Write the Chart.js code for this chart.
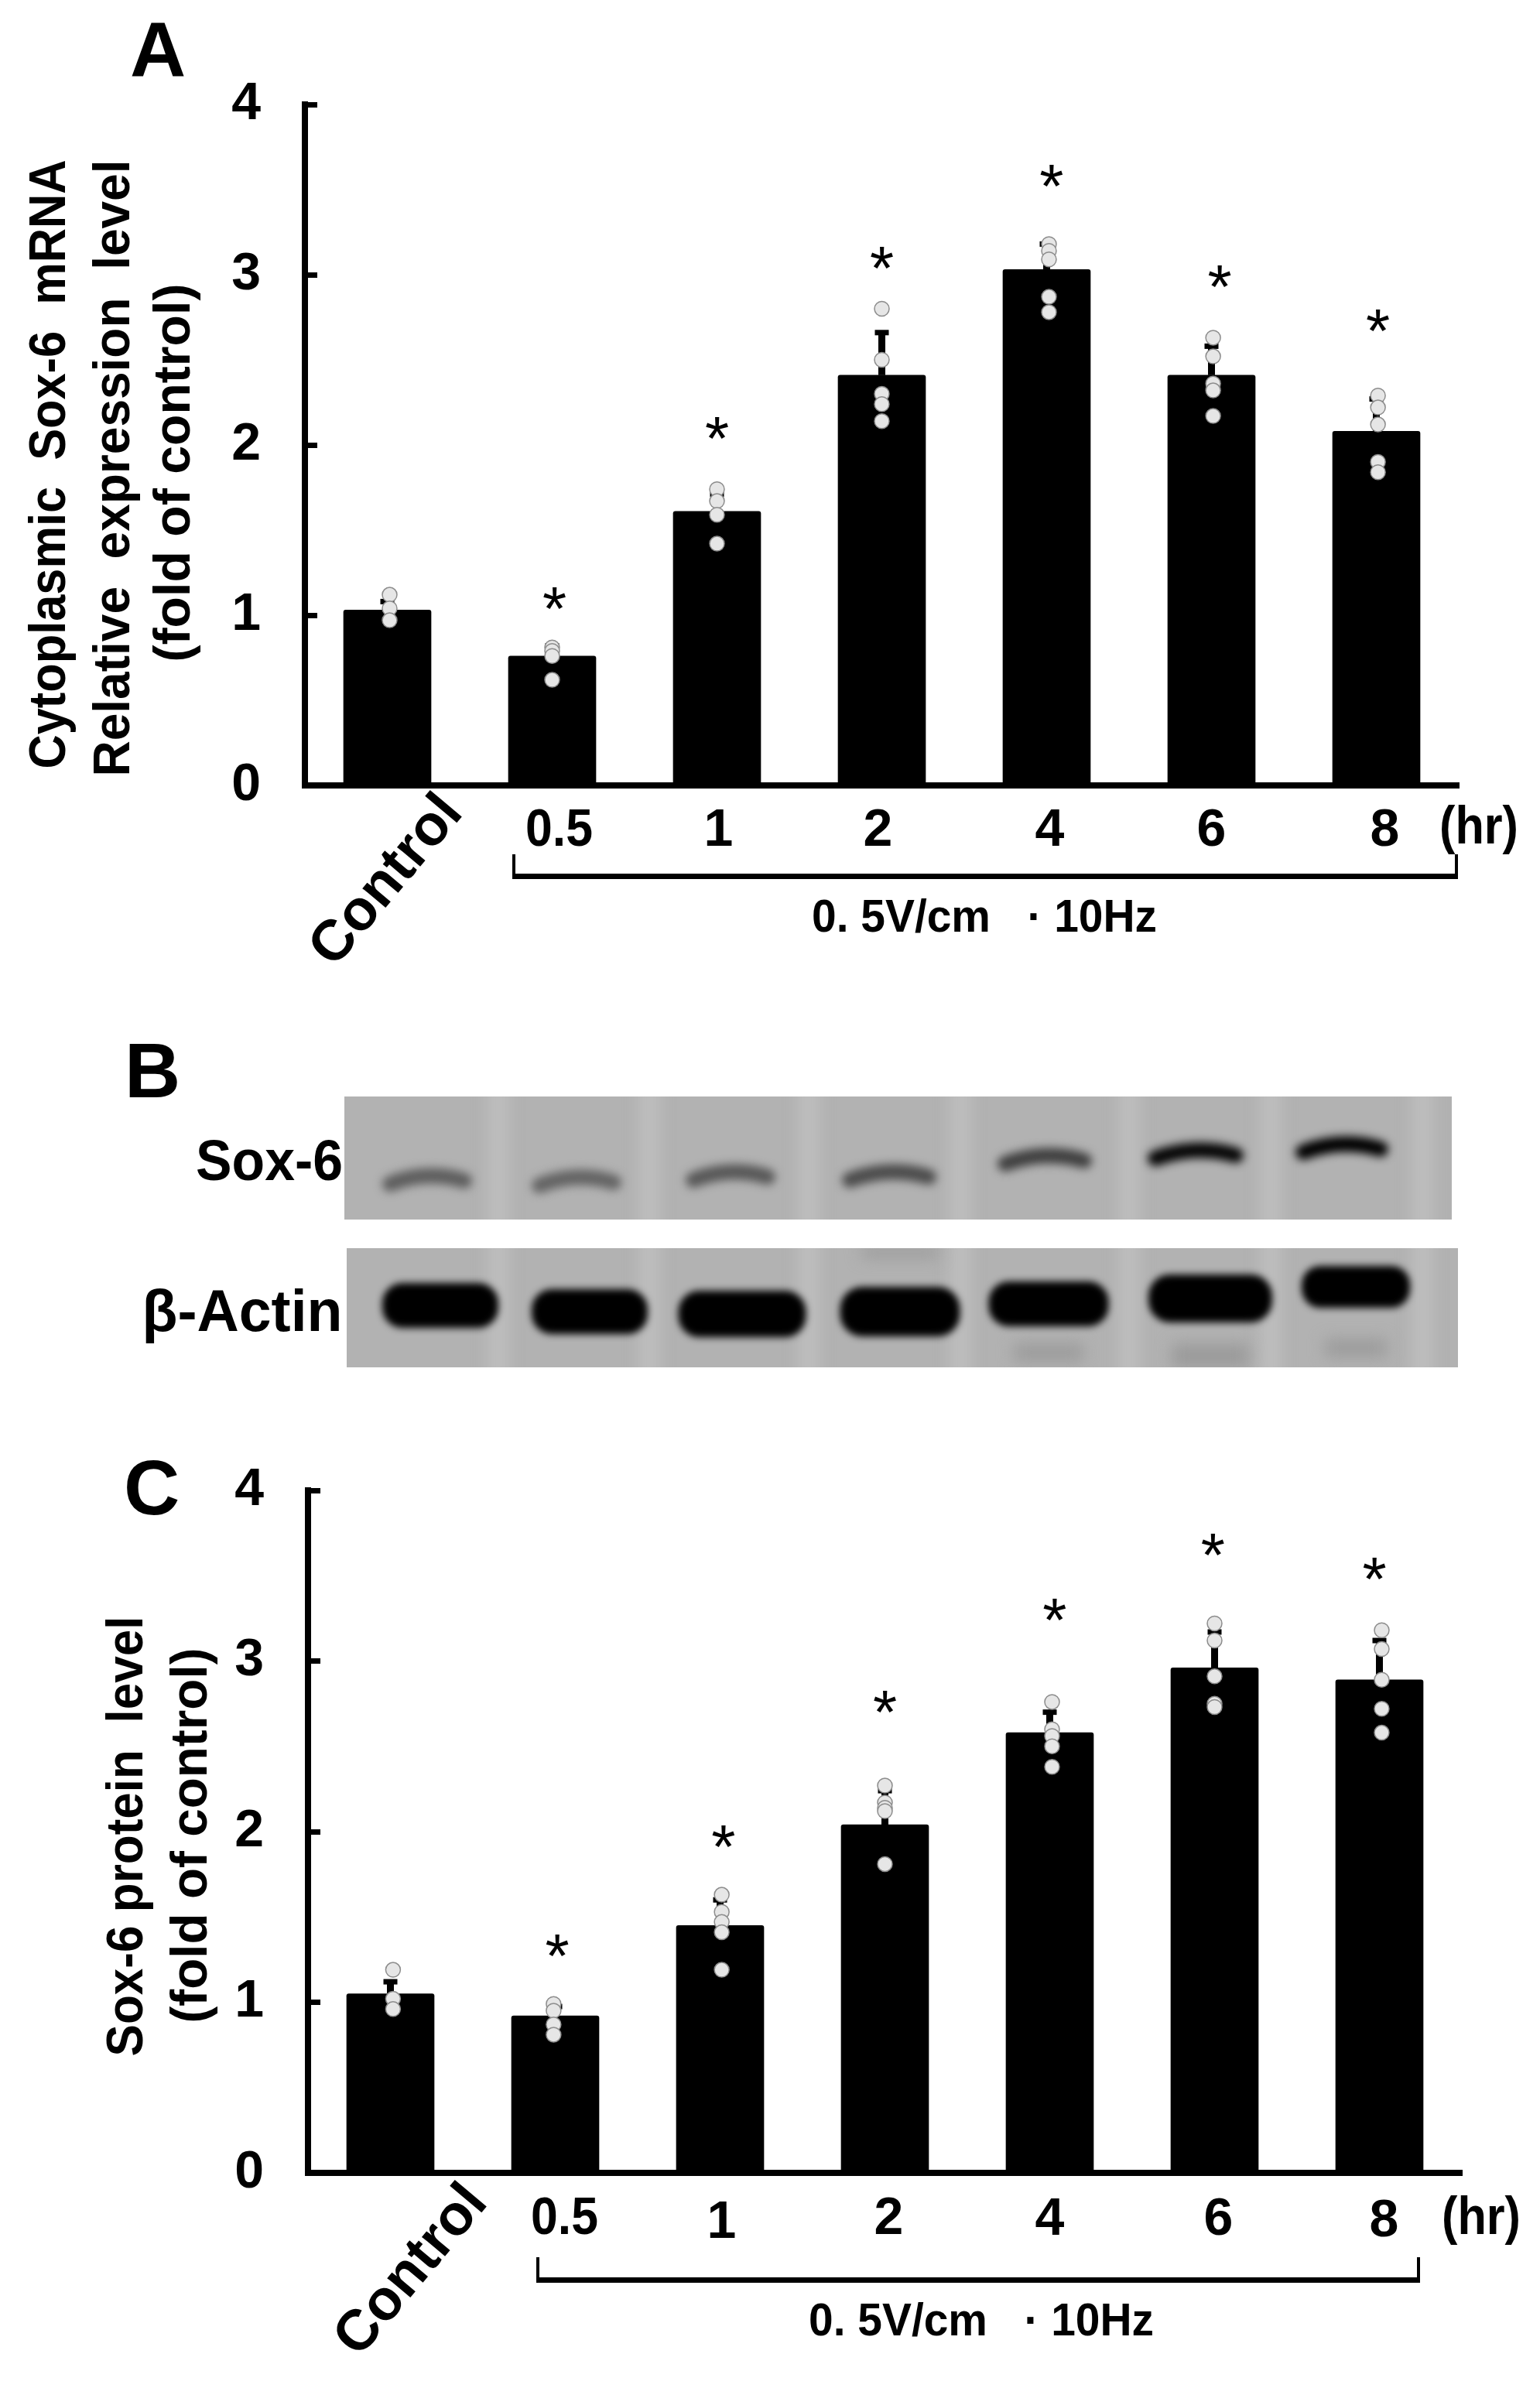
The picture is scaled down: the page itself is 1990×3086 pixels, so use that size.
<!DOCTYPE html>
<html>
<head>
<meta charset="utf-8">
<title>Sox-6 expression</title>
<script src="https://cdn.jsdelivr.net/npm/chart.js@4/dist/chart.umd.min.js"></script>
<style>
  body { margin: 0; background: #fff; }
  #page { position: relative; width: 1990px; height: 3086px; overflow: hidden; }
  canvas { position: absolute; left: 0; }
</style>
</head>
<body>
<div id="page">
  <canvas id="blot" width="1990" height="580" style="top:1300px"></canvas>
  <canvas id="chartA" width="1990" height="1300" style="top:0"></canvas>
  <canvas id="chartC" width="1990" height="1306" style="top:1780px"></canvas>
</div>
<script>
const FONT = '"Liberation Sans", Arial, sans-serif';

const categories = ['Control', '0.5', '1', '2', '4', '6', '8'];
const yTicks = [0, 1, 2, 3, 4];

// panel A - cytoplasmic mRNA
const meanA = [1.03, 0.76, 1.61, 2.41, 3.03, 2.41, 2.08];
const errTopA = [1.08, 0.82, 1.71, 2.66, 3.18, 2.58, 2.27];
const pointsA = [
  [1.12, 1.04, 0.97],
  [0.81, 0.79, 0.76, 0.62],
  [1.74, 1.67, 1.59, 1.42],
  [2.80, 2.50, 2.30, 2.24, 2.14],
  [3.18, 3.14, 3.09, 2.87, 2.78],
  [2.63, 2.52, 2.36, 2.32, 2.17],
  [2.29, 2.22, 2.12, 1.90, 1.84]
];
const pointShiftA = [0.014, 0, 0, 0, 0.014, 0.01, 0.01];
const starsA = [null, 1.10, 2.10, 3.10, 3.58, 2.99, 2.73];
const starShiftA = [0, 0.014, 0, 0, 0.03, 0.05, 0.01];

// panel C - protein
const meanC = [1.05, 0.92, 1.45, 2.04, 2.58, 2.96, 2.89];
const errTopC = [1.12, 0.975, 1.60, 2.24, 2.70, 3.17, 3.12];
const pointsC = [
  [1.19, 1.02, 0.96],
  [0.99, 0.95, 0.87, 0.81],
  [1.63, 1.53, 1.47, 1.41, 1.19],
  [2.27, 2.17, 2.14, 2.12, 1.81],
  [2.76, 2.60, 2.56, 2.50, 2.38],
  [3.22, 3.12, 2.91, 2.75, 2.73],
  [3.18, 3.07, 2.89, 2.72, 2.58]
];
const pointShiftC = [0.016, -0.01, 0.01, 0, 0.014, 0, 0.014];
const starsC = [null, 1.33, 1.97, 2.76, 3.30, 3.68, 3.54];
const starShiftC = [0, 0.012, 0.02, 0, 0.03, -0.01, -0.03];

// text drawn at its baseline centre, squeezed to a target width if one is given
function putText(ctx, text, x, y, font, width, angle) {
  ctx.save();
  ctx.translate(x, y);
  if (angle) ctx.rotate(angle * Math.PI / 180);
  ctx.font = font;
  ctx.fillStyle = '#000';
  ctx.textAlign = 'center';
  ctx.textBaseline = 'alphabetic';
  if (width) ctx.scale(width / ctx.measureText(text).width, 1);
  ctx.fillText(text, 0, 0);
  ctx.restore();
}

function drawPanel(id, cfg) {
  const canvas = document.getElementById(id);
  const annotate = {
    id: 'annotate',
    beforeDatasetsDraw(chart) {
      // error bars sit under the points
      const { ctx, scales: { x, y } } = chart;
      ctx.save();
      ctx.fillStyle = '#000';
      cfg.errTop.forEach((v, i) => {
        const px = x.getPixelForValue(i);
        ctx.fillRect(px - 4.5, y.getPixelForValue(v), 9, y.getPixelForValue(cfg.mean[i]) - y.getPixelForValue(v));
        ctx.fillRect(px - 9, y.getPixelForValue(v) - 3.5, 18, 7);
      });
      ctx.restore();
    },
    afterDraw(chart) {
      const { ctx, scales: { xPts, y } } = chart;
      ctx.save();

      // significance stars
      ctx.font = 'normal 80px ' + FONT;
      ctx.textAlign = 'center';
      ctx.textBaseline = 'alphabetic';
      ctx.fillStyle = '#000';
      const m = ctx.measureText('*');
      cfg.stars.forEach((v, i) => {
        if (v === null) return;
        ctx.fillText('*', xPts.getPixelForValue(i + cfg.starShift[i]),
          y.getPixelForValue(v) + (m.actualBoundingBoxAscent - m.actualBoundingBoxDescent) / 2);
      });

      ctx.translate(0, -cfg.top);

      // category labels, Control is tilted
      const bold = s => 'bold ' + s + 'px ' + FONT;
      categories.forEach((c, i) => {
        if (i === 0) {
          putText(ctx, c, cfg.control[0], cfg.control[1], bold(74), 262, -50);
        } else {
          const w = i === 1 ? 87 : 0;
          putText(ctx, c, xPts.getPixelForValue(i) + cfg.labelNudge[i], cfg.labelBase[i], bold(68), w);
        }
      });
      putText(ctx, '(hr)', cfg.hr[0], cfg.hr[1], bold(68), 102);

      // y title
      cfg.title.forEach(t => putText(ctx, t[0], t[1], t[2], bold(67), t[3], -90));
      putText(ctx, cfg.letter, cfg.letterPos[0], cfg.letterPos[1], bold(100));

      // bracket under the time points
      ctx.strokeStyle = '#000';
      ctx.lineWidth = 4;
      const b = cfg.bracket;
      ctx.beginPath();
      ctx.moveTo(b.left, b.top);
      ctx.lineTo(b.left, b.bottom);
      ctx.moveTo(b.right, b.top);
      ctx.lineTo(b.right, b.bottom);
      ctx.stroke();
      ctx.fillStyle = '#000';
      ctx.fillRect(b.left - 2, b.bottom - 3, b.right - b.left + 4, 7);
      putText(ctx, '0. 5V/cm   \u00b7 10Hz', b.textX, b.textY, bold(60), 446);
      ctx.restore();
    }
  };

  const pts = [];
  cfg.points.forEach((list, i) => list.forEach(v => pts.push({ x: i + cfg.pointShift[i], y: v })));

  new Chart(canvas, {
    type: 'bar',
    data: {
      labels: categories,
      datasets: [
        {
          type: 'bar',
          data: cfg.mean,
          backgroundColor: '#000',
          barThickness: 113,
          grouped: false,
          borderRadius: 3,
          borderSkipped: 'bottom',
          order: 2
        },
        {
          type: 'scatter',
          data: pts,
          xAxisID: 'xPts',
          pointRadius: 9.5,
          pointBackgroundColor: '#e6e6e6',
          pointBorderColor: '#8c8c8c',
          pointBorderWidth: 1.5,
          order: 1
        }
      ]
    },
    options: {
      responsive: false,
      animation: false,
      layout: { padding: { left: 0, top: cfg.yTop - cfg.top, right: canvas.width - cfg.xRight, bottom: 0 } },
      plugins: { legend: { display: false }, tooltip: { enabled: false } },
      scales: {
        x: {
          type: 'category',
          offset: true,
          grid: { display: false },
          border: { color: '#000', width: 8 },
          ticks: { display: false },
          afterFit: s => { s.height = canvas.height - (cfg.yBase - cfg.top); }
        },
        xPts: { type: 'linear', display: false, offset: false, min: -0.5, max: 6.5 },
        y: {
          min: 0,
          max: 4,
          afterBuildTicks: s => { s.ticks = yTicks.map(v => ({ value: v })); },
          afterFit: s => { s.width = cfg.xLeft; },
          border: { color: '#000', width: 8 },
          grid: { drawOnChartArea: false, drawTicks: true, tickLength: -16, tickWidth: 7, tickColor: '#000' },
          ticks: { color: '#000', font: { family: FONT, size: 68, weight: 'bold' }, padding: 73 }
        }
      }
    },
    plugins: [annotate]
  });
}

drawPanel('chartA', {
  top: 0, yTop: 135, yBase: 1015, xLeft: 394, xRight: 1885,
  mean: meanA, errTop: errTopA, points: pointsA, pointShift: pointShiftA, stars: starsA, starShift: starShiftA,
  labelNudge: [0, 9, 2, -5, 4, 0, 11],
  labelBase: [0, 1093, 1093, 1093, 1093, 1093, 1093],
  control: [516, 1152],
  hr: [1911, 1090],
  title: [
    ['Cytoplasmic  Sox-6  mRNA', 84, 600, 787],
    ['Relative  expression  level', 167, 605, 797],
    ['(fold of control)', 245, 611, 489]
  ],
  letter: 'A', letterPos: [204, 99],
  bracket: { left: 664, right: 1882, top: 1104, bottom: 1132, textX: 1272, textY: 1204 }
});

drawPanel('chartC', {
  top: 1780, yTop: 1926, yBase: 2808, xLeft: 398, xRight: 1889,
  mean: meanC, errTop: errTopC, points: pointsC, pointShift: pointShiftC, stars: starsC, starShift: starShiftC,
  labelNudge: [0, 12, 2, 5, 0, 5, 6],
  labelBase: [0, 2887, 2892, 2887, 2888, 2888, 2890],
  control: [548, 2948],
  hr: [1914, 2887],
  title: [
    ['Sox-6 protein  level', 184, 2373, 569],
    ['(fold of control)', 267, 2372, 485]
  ],
  letter: 'C', letterPos: [196, 1957],
  bracket: { left: 695, right: 1833, top: 2917, bottom: 2946, textX: 1268, textY: 3018 }
});

// panel B - western blot strips
const laneGaps = [644, 839, 1045, 1241, 1459, 1642, 1838];
const soxBands = [
  [552, 1523, 112, '#5e5e5e'], [745, 1525, 112, '#646464'], [944, 1518, 112, '#585858'], [1149, 1518, 118, '#4c4c4c'],
  [1350, 1497, 118, '#404040'], [1545, 1490, 120, '#050505'], [1734, 1482, 116, '#000000']
];
const actinBands = [
  [569, 1687, 150, 58], [762, 1695, 150, 58], [959, 1698, 165, 60], [1163, 1695, 155, 64],
  [1355, 1685, 155, 58], [1564, 1678, 160, 62], [1752, 1663, 140, 54]
];
const smears = [[1564, 1752, 100, 30], [1355, 1748, 90, 22], [1752, 1742, 80, 22], [1163, 1618, 100, 14], [1163, 1566, 120, 18]];

(function drawBlot() {
  const ctx = document.getElementById('blot').getContext('2d');
  ctx.translate(0, -1300);

  function strip(x, y, w, h, draw) {
    ctx.save();
    ctx.beginPath();
    ctx.rect(x, y, w, h);
    ctx.clip();
    ctx.fillStyle = '#b2b2b2';
    ctx.fillRect(x, y, w, h);
    ctx.filter = 'blur(9px)';
    ctx.fillStyle = '#bdbdbd';
    laneGaps.forEach(g => ctx.fillRect(g - 14, y - 20, 28, h + 40));
    draw();
    ctx.restore();
  }

  strip(445, 1417, 1431, 159, () => {
    ctx.filter = 'blur(6px)';
    soxBands.forEach(b => {
      ctx.strokeStyle = b[3];
      ctx.lineWidth = 20;
      ctx.lineCap = 'round';
      ctx.beginPath();
      ctx.moveTo(b[0] - b[2] / 2 + 8, b[1] + 7);
      ctx.quadraticCurveTo(b[0], b[1] - 12, b[0] + b[2] / 2 - 8, b[1] + 3);
      ctx.stroke();
    });
  });

  strip(448, 1613, 1436, 154, () => {
    ctx.filter = 'blur(10px)';
    ctx.fillStyle = '#9a9a9a';
    smears.forEach(s => ctx.fillRect(s[0] - s[2] / 2, s[1] - s[3] / 2, s[2], s[3]));
    ctx.filter = 'blur(5px)';
    ctx.fillStyle = '#000';
    actinBands.forEach(b => {
      ctx.beginPath();
      ctx.roundRect(b[0] - b[2] / 2, b[1] - b[3] / 2, b[2], b[3], [b[3] * 0.45]);
      ctx.fill();
    });
  });

  const bold = s => 'bold ' + s + 'px ' + FONT;
  putText(ctx, 'B', 197, 1418, bold(100));
  putText(ctx, 'Sox-6', 348, 1525, bold(74), 190);
  putText(ctx, '\u03b2-Actin', 313, 1720, bold(76), 259);
})();
</script>
</body>
</html>
